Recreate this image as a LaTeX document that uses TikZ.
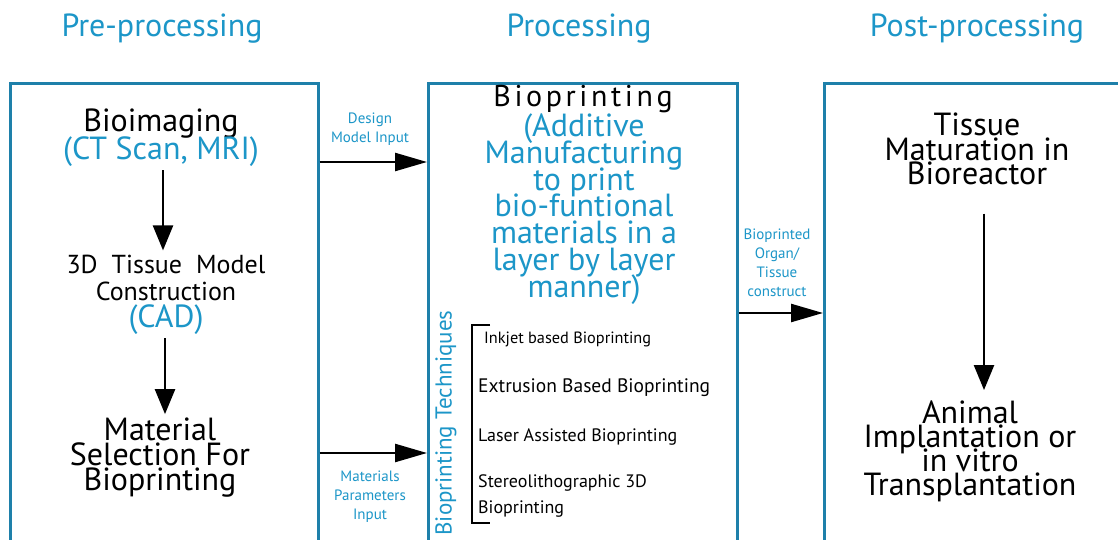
\documentclass[tikz,border=0pt]{standalone}
\usepackage{fontspec}
\setmainfont{PT Sans}
\usetikzlibrary{arrows.meta}
\definecolor{tblue}{RGB}{28,150,200}
\definecolor{bframe}{RGB}{30,128,170}
% font size with a fixed line pitch
\newcommand{\fs}[2]{\fontsize{#1}{#2}\selectfont\lineskiplimit=-100pt\lineskip=0pt}
\begin{document}
\begin{tikzpicture}[x=1pt,y=-1pt,
  stagebox/.style={draw=bframe,line width=2.6pt,anchor=north west,inner sep=0pt},
  title/.style={text=tblue,font=\fs{32}{32}},
  big/.style={align=center,inner sep=0pt,anchor=base,font=\fs{32}{25}},
  lbl/.style={align=center,inner sep=0pt,text=tblue,font=\fs{15}{19}},
  item/.style={anchor=base west,inner sep=0pt,font=\fs{18}{26}},
  varr/.style={line width=2.4pt,-{Triangle[width=20pt,length=25pt]}},
  harr/.style={line width=2.4pt,-{Triangle[width=18pt,length=32pt]}}]
\useasboundingbox (0,0) rectangle (1118,540);
\clip (0,0) rectangle (1118,540);
\fill[white] (0,0) rectangle (1118,540);

% stage titles
\node[title] (t1) at (162,29) {Pre-processing};
\node[title] (t2) at (579,29) {Processing};
\node[title] (t3) at (977,29) {Post-processing};

% stage frames (open at the bottom / right edge)
\node[stagebox,minimum width=308pt,minimum height=480pt] (pre) at (9,82) {};
\node[stagebox,minimum width=309pt,minimum height=480pt] (proc) at (427,82) {};
\node[stagebox,minimum width=320pt,minimum height=480pt] (post) at (823,82) {};

% pre-processing (base anchor = last line)
\node[big,font=\fs{32}{28}] (img) at (161,160) {Bioimaging\\{\color{tblue}(CT Scan, MRI)}};
\node[big,font=\fs{26}{27}] (cad) at (166,327) {3D\hspace{14pt}Tissue\hspace{14pt}Model\\Construction\\{\color{tblue}\fs{32}{29}(CAD)}};
\node[big] (mat) at (160,490) {Material\\Selection For\\Bioprinting};
\draw[varr] ([xshift=2pt,yshift=-3pt]img.south) -- ([xshift=2pt,yshift=4pt]img.south |- cad.north);
\draw[varr] ([xshift=-1pt,yshift=-4pt]cad.south) -- ([xshift=-1pt,yshift=3pt]cad.south |- mat.north);

% links between stages
\coordinate (d1) at (pre.east |- 0,162);
\coordinate (d2) at (proc.west |- 0,162);
\draw[harr] (d1) -- (d2);
\node[lbl] (dlab) at (370,129) {Design\\Model Input};
\coordinate (m1) at (pre.east |- 0,453);
\coordinate (m2) at (proc.west |- 0,453);
\draw[harr] (m1) -- (m2);
\node[lbl] (mlab) at (370,497) {Materials\\Parameters\\Input};
\coordinate (o1) at (proc.east |- 0,313);
\coordinate (o2) at (post.west |- 0,313);
\draw[harr] (o1) -- (o2);
\node[lbl] (olab) at (777,263) {Bioprinted\\Organ/\\Tissue\\construct};

% processing
\node[inner sep=0pt,anchor=base,font=\fs{30}{30}\addfontfeature{LetterSpace=12}] (bp) at (583,107) {Bioprinting};
\node[big,text=tblue,font=\fs{32}{26.7}] (am) at (584,297) {(Additive\\Manufacturing\\to print\\bio-funtional\\materials in a\\layer by layer\\manner)};
\node[inner sep=0pt,text=tblue,font=\fs{23}{23},rotate=90] (tech) at (446,423) {Bioprinting Techniques};
\coordinate (bt) at (472,325);
\coordinate (bb) at (472,523);
\draw[line width=2.2pt] (bt) ++(18,0) -- (bt) -- (bb) -- ++(18,0);
\node[item,font=\fs{16.3}{26}] (i1) at (484,343) {Inkjet based Bioprinting};
\node[item,font=\fs{19.5}{26}] (i2) at (478,392) {Extrusion Based Bioprinting};
\node[item] (i3) at (478,441) {Laser Assisted Bioprinting};
\node[item,align=left] (i4) at (478,513) {Stereolithographic 3D\\Bioprinting};

% post-processing
\node[big,font=\fs{32}{24.5}] (tm) at (977,185) {Tissue\\Maturation in\\Bioreactor};
\node[big,font=\fs{32}{24}] (ai) at (970,495) {Animal\\Implantation or\\in vitro\\Transplantation};
\draw[varr] ([xshift=7pt,yshift=-28pt]tm.south) -- ([xshift=7pt,yshift=10pt]tm.south |- ai.north);
\end{tikzpicture}
\end{document}
